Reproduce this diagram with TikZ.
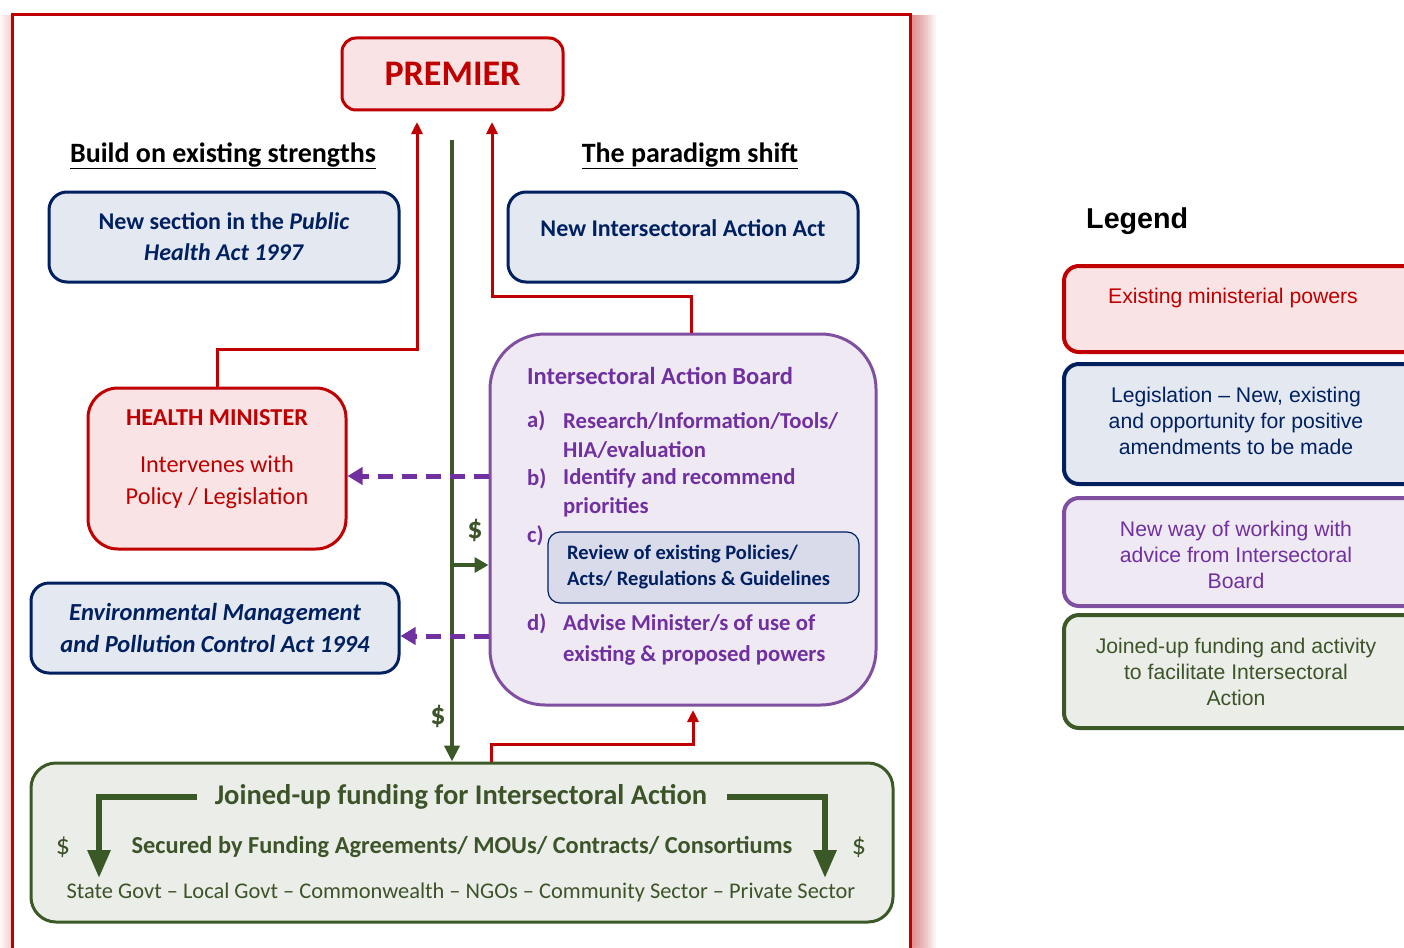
\documentclass[tikz,border=0pt]{standalone}
\usepackage{fontspec}
\setmainfont{Carlito}
\newfontfamily\legendfont{Liberation Sans}
\usetikzlibrary{arrows.meta}

\definecolor{premred}{RGB}{192,0,0}
\definecolor{pinkfill}{RGB}{249,227,228}
\definecolor{navy}{RGB}{0,32,96}
\definecolor{bluefill}{RGB}{227,232,241}
\definecolor{boardline}{RGB}{128,80,160}
\definecolor{boardpurple}{RGB}{112,48,160}
\definecolor{lilacfill}{RGB}{239,233,244}
\definecolor{reviewfill}{RGB}{217,218,234}
\definecolor{fundgreen}{RGB}{59,89,38}
\definecolor{fundtext}{RGB}{61,83,41}
\definecolor{greenfill}{RGB}{235,238,232}

\tikzset{
  minbox/.style={draw=premred, fill=pinkfill, line width=3pt, inner sep=0pt},
  lawbox/.style={draw=navy, fill=bluefill, line width=3pt, rounded corners=18pt, inner sep=0pt},
  boardbox/.style={draw=boardline, fill=lilacfill, line width=3pt, rounded corners=55pt, inner sep=0pt},
  fundbox/.style={draw=fundgreen, fill=greenfill, line width=3pt, rounded corners=25pt, inner sep=0pt},
  heading/.style={font=\fontsize{28}{32}\selectfont\bfseries, inner sep=0pt},
  lawtext/.style={text=navy, font=\fontsize{24}{31}\selectfont\bfseries, align=center, inner sep=0pt},
  boardtext/.style={text=boardpurple, font=\fontsize{22.7}{29}\selectfont\bfseries, anchor=west, align=left, inner sep=0pt},
  dollar/.style={text=fundtext, font=\fontsize{30}{32}\selectfont\bfseries, inner sep=0pt},
  power/.style={draw=premred, line width=3pt, -{Triangle[length=12pt,width=11pt]}},
  money/.style={draw=fundgreen, line width=4pt},
  advice/.style={draw=boardpurple, line width=5pt, dash pattern=on 15pt off 9pt, -{Triangle[length=15pt,width=17pt]}},
  fundarrow/.style={draw=fundgreen, line width=6pt, -{Triangle[length=28pt,width=22pt]}},
  legbox/.style={line width=4pt, rounded corners=15pt, minimum width=356pt, inner sep=0pt},
  legtext/.style={font=\legendfont\fontsize{21.2}{26}\selectfont, align=center, inner sep=0pt}
}

\begin{document}
\begin{tikzpicture}[x=1pt,y=-1pt]
\useasboundingbox (0,0) rectangle (1404,947);
\clip (0,0) rectangle (1404,947);
\fill[white] (0,0) rectangle (1404,947);

\foreach \w in {2,4,...,26}
  \fill[premred, opacity=0.045] (910,15) rectangle (910+\w,965);
\foreach \w in {2,4,...,12}
  \fill[premred, opacity=0.03] (12,15) rectangle (12-\w,965);
\draw[premred, line width=3pt] (12,15) rectangle (910,965);

\node[minbox, rounded corners=14pt, minimum width=221pt, minimum height=72pt, text=premred, font=\fontsize{36}{40}\selectfont\bfseries] (prem) at (452.5,74) {PREMIER};

\node[heading] (hbuild) at (223,156) {\underline{Build on existing strengths}};
\node[heading] (hshift) at (690,156) {\underline{The paradigm shift}};

\node[lawbox, lawtext, minimum width=350pt, minimum height=90pt] (phact) at (224,237) {New section in the \textit{Public}\\\textit{Health Act 1997}};
\node[lawbox, minimum width=350pt, minimum height=90pt] (iaact) at (683,237) {};
\node[lawtext] (iatext) at (683,228) {New Intersectoral Action Act};

\node[minbox, rounded corners=30pt, minimum width=258pt, minimum height=161pt] (hm) at (217,468.5) {};
\node[text=premred, font=\fontsize{24.3}{28}\selectfont\bfseries, inner sep=0pt] (hmtitle) at (217,418) {HEALTH MINISTER};
\node[text=premred, font=\fontsize{24.3}{32}\selectfont, align=center, inner sep=0pt] (hmtext) at (217,482) {Intervenes with\\Policy / Legislation};

\node[lawbox, lawtext, font=\fontsize{24.5}{32}\selectfont\bfseries\itshape, minimum width=368pt, minimum height=90pt] (emact) at (215,628) {Environmental Management\\and Pollution Control Act 1994};

\node[boardbox, minimum width=386pt, minimum height=371pt] (board) at (683,519.5) {};
\node[boardtext, font=\fontsize{24.5}{29}\selectfont\bfseries] (btitle) at (527,376) {Intersectoral Action Board};
\node[boardtext] (la) at (527,421) {a)};
\node[boardtext] (ta) at (563,435.5) {Research/Information/Tools/\\HIA/evaluation};
\node[boardtext] (lb) at (527,479) {b)};
\node[boardtext] (tb) at (563,493) {Identify and recommend\\priorities};
\node[boardtext] (lc) at (527,536) {c)};
\node[draw=navy, fill=reviewfill, line width=1.2pt, rounded corners=12pt, minimum width=311pt, minimum height=71pt, inner sep=0pt] (review) at (703.5,567.5) {};
\node[text=navy, font=\fontsize{20.5}{26}\selectfont\bfseries, anchor=west, align=left, inner sep=0pt] (revtext) at (567,567) {Review of existing Policies/\\Acts/ Regulations \& Guidelines};
\node[boardtext] (ld) at (527,624) {d)};
\node[boardtext, font=\fontsize{22.7}{31}\selectfont\bfseries] (td) at (563,639.5) {Advise Minister/s of use of\\existing \& proposed powers};

\node[fundbox, minimum width=862pt, minimum height=159pt] (fund) at (462,842.5) {};
\node[text=fundtext, font=\fontsize{28.5}{30}\selectfont\bfseries, inner sep=0pt] (ftitle) at (461,797) {Joined-up funding for Intersectoral Action};
\node[text=fundtext, font=\fontsize{24.4}{26}\selectfont\bfseries, inner sep=0pt] (fsecured) at (462,847) {Secured by Funding Agreements/ MOUs/ Contracts/ Consortiums};
\node[text=fundtext, font=\fontsize{22.4}{26}\selectfont, inner sep=0pt] (fsectors) at (461,893) {State Govt – Local Govt – Commonwealth – NGOs – Community Sector – Private Sector};
\node[dollar, font=\fontsize{28}{30}\selectfont] (dl) at (63,847) {\$};
\node[dollar, font=\fontsize{28}{30}\selectfont] (dr) at (859,847) {\$};
\coordinate (fl) at (99,878);
\coordinate (fr) at (825,878);
\draw[fundarrow] ([xshift=-18pt]ftitle.west) -| (fl);
\draw[fundarrow] ([xshift=20pt]ftitle.east) -| (fr);

\coordinate (tipL) at (417,122);
\coordinate (tipR) at (492,122);
\coordinate (tipB) at (693,710);
\coordinate (gtop) at (452,140);
\coordinate (gmid) at (452,565);
\draw[power] (hm.north) -- ++(0,-37) -| (tipL);
\draw[power] ([xshift=8pt]board.north) -- ++(0,-36) -| (tipR);
\draw[power] ([xshift=29pt]fund.north) -- ++(0,-17) -| (tipB);
\draw[money, -{Triangle[length=16pt,width=15pt]}] (gtop) -- (gtop |- fund.north);
\draw[money, -{Triangle[length=14pt,width=15pt]}] (gmid) -- (gmid -| board.west);
\draw[advice] (board.west |- 0,476) -- (hm.east |- 0,476);
\draw[advice] (board.west |- 0,636) -- (emact.east |- 0,636);
\node[dollar] (d1) at (475,530) {\$};
\node[dollar] (d2) at (438,716) {\$};

\node[font=\legendfont\fontsize{28.7}{32}\selectfont\bfseries, anchor=west, inner sep=0pt] (legend) at (1086,221) {Legend};
\node[legbox, draw=premred, fill=pinkfill, minimum height=86pt] (lg1) at (1242,309) {};
\node[legtext, text=premred] (lt1) at (1233,298) {Existing ministerial powers};
\node[legbox, draw=navy, fill=bluefill, minimum height=120pt] (lg2) at (1242,424) {};
\node[legtext, text=navy] (lt2) at (1236,421) {Legislation – New, existing\\and opportunity for positive\\amendments to be made};
\node[legbox, draw=boardline, fill=lilacfill, minimum height=108pt] (lg3) at (1242,552) {};
\node[legtext, text=boardpurple] (lt3) at (1236,555) {New way of working with\\advice from Intersectoral\\Board};
\node[legbox, draw=fundgreen, fill=greenfill, minimum height=113pt] (lg4) at (1242,671.5) {};
\node[legtext, text=fundtext] (lt4) at (1236,672) {Joined-up funding and activity\\to facilitate Intersectoral\\Action};
\end{tikzpicture}
\end{document}
